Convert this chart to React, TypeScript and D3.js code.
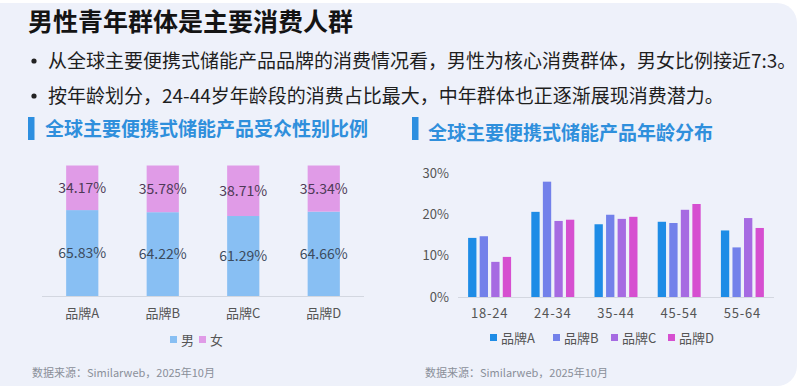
import React, { useEffect } from "react";
import * as d3 from "d3";

const title = "男性青年群体是主要消费人群";
const bullets = [
  "从全球主要便携式储能产品品牌的消费情况看，男性为核心消费群体，男女比例接近7:3。",
  "按年龄划分，24-44岁年龄段的消费占比最大，中年群体也正逐渐展现消费潜力。",
];
const leftTitle = "全球主要便携式储能产品受众性别比例";
const rightTitle = "全球主要便携式储能产品年龄分布";
const source = "数据来源：Similarweb，2025年10月";

const brands = ["品牌A", "品牌B", "品牌C", "品牌D"];
const maleShare = [65.83, 64.22, 61.29, 64.66];
const femaleShare = [34.17, 35.78, 38.71, 35.34];
const genderLabels = ["男", "女"];

const ageGroups = ["18-24", "24-34", "35-44", "45-54", "55-64"];
const brandA = [14.3, 20.6, 17.6, 18.2, 16.1];
const brandB = [14.7, 27.9, 19.9, 17.9, 12.0];
const brandC = [8.5, 18.4, 18.9, 21.1, 19.1];
const brandD = [9.7, 18.7, 19.4, 22.5, 16.7];
const yTicks = [0, 10, 20, 30];

const FONT = "'Noto Sans CJK SC', 'Noto Sans', sans-serif";
const maleColor = "#88bff3";
const femaleColor = "#e09be7";
const brandColors = ["#1e8ce6", "#7381ea", "#a66be2", "#d64fd0"];

export default function App() {
  useEffect(() => {
    document.body.style.margin = "0";
  }, []);

  // left chart scales
  const lx = d3.scaleBand().domain(brands).range([42, 364]).paddingInner(0.6).paddingOuter(0.3);
  const ly = d3.scaleLinear().domain([0, 100]).range([296, 165.5]);
  const stack = d3.stack<number>().keys(["m", "f"]).value((i, k) => (k === "m" ? maleShare[i] : femaleShare[i]));
  const series = stack(brands.map((_, i) => i));

  // right chart scales
  const rx0 = d3.scaleBand().domain(ageGroups).range([458, 774]).paddingInner(0.32).paddingOuter(0.16);
  const rx1 = d3.scaleBand().domain(brands).range([0, rx0.bandwidth()]).paddingInner(0.28);
  const ry = d3.scaleLinear().domain([0, 30]).range([297, 173]);
  const rseries = [brandA, brandB, brandC, brandD];

  return (
    <div style={{ position: "absolute", left: 0, top: 0 }}>
      <svg width={800} height={392} style={{ display: "block", fontFamily: FONT }}>
        <rect x={0} y={0} width={800} height={392} fill="#ffffff" />
        <rect x={-20} y={3} width={817} height={383} rx={20} fill="#eef1fa" />
        <text x={28} y={31} fontSize={25} fontWeight={700} fill="#141414">{title}</text>
        {bullets.map((b, i) => (
          <g key={i}>
            <circle cx={34} cy={61 + i * 35} r={2.6} fill="#222" />
            <text x={48} y={68 + i * 35} fontSize={19} fill="#1e1e1e">{b}</text>
          </g>
        ))}

        {/* left panel */}
        <rect x={28} y={117} width={6.5} height={23} fill="#2d8fe0" />
        <text x={45} y={136} fontSize={19} fontWeight={700} fill="#2f8fdc">{leftTitle}</text>
        {series.map((s) => (
          <g key={s.key}>
            {s.map((d, i) => (
              <rect key={i} x={lx(brands[i])} y={ly(d[1])} width={lx.bandwidth()} height={ly(d[0]) - ly(d[1])}
                fill={s.key === "m" ? maleColor : femaleColor} />
            ))}
            {s.map((d, i) => (
              <text key={"t" + i} x={(lx(brands[i]) as number) + lx.bandwidth() / 2} y={(ly(d[0]) + ly(d[1])) / 2 + 5}
                textAnchor="middle" fontSize={14} fill={s.key === "m" ? "#3c4b5e" : "#4d3a56"}>
                {(s.key === "m" ? maleShare[i] : femaleShare[i]).toFixed(2)}%
              </text>
            ))}
          </g>
        ))}
        <line x1={42} x2={364} y1={296.5} y2={296.5} stroke="#d3d7e0" />
        {brands.map((b) => (
          <text key={b} x={(lx(b) as number) + lx.bandwidth() / 2} y={318} textAnchor="middle" fontSize={13} fill="#555">{b}</text>
        ))}
        <rect x={170} y={336} width={7} height={7} fill={maleColor} />
        <text x={181} y={345} fontSize={13} fill="#555">{genderLabels[0]}</text>
        <rect x={199} y={336} width={7} height={7} fill={femaleColor} />
        <text x={210} y={345} fontSize={13} fill="#555">{genderLabels[1]}</text>
        <text x={32} y={377} fontSize={11} fill="#8a8f99">{source}</text>

        {/* right panel */}
        <rect x={412} y={117} width={6.5} height={23} fill="#2d8fe0" />
        <text x={428} y={140} fontSize={19} fontWeight={700} fill="#2f8fdc">{rightTitle}</text>
        {yTicks.map((t) => (
          <text key={t} x={449} y={ry(t) + 4.5} textAnchor="end" fontSize={13} fill="#555">{t}%</text>
        ))}
        {ageGroups.map((g, gi) => (
          <g key={g} transform={`translate(${rx0(g)},0)`}>
            {rseries.map((vals, bi) => (
              <rect key={bi} x={rx1(brands[bi])} y={ry(vals[gi])} width={rx1.bandwidth()} height={ry(0) - ry(vals[gi])}
                fill={brandColors[bi]} />
            ))}
          </g>
        ))}
        <line x1={458} x2={774} y1={297.5} y2={297.5} stroke="#d3d7e0" />
        {ageGroups.map((g) => (
          <text key={g} x={(rx0(g) as number) + rx0.bandwidth() / 2} y={318} textAnchor="middle" fontSize={13} fill="#555" letterSpacing={0.8}>{g}</text>
        ))}
        {brands.map((b, i) => {
          const xs = [490, 553, 611, 668];
          return (
            <g key={b}>
              <rect x={xs[i]} y={334} width={7} height={7} fill={brandColors[i]} />
              <text x={xs[i] + 11} y={343} fontSize={13} fill="#555">{b}</text>
            </g>
          );
        })}
        <text x={425} y={377} fontSize={11} fill="#8a8f99">{source}</text>
      </svg>
    </div>
  );
}
